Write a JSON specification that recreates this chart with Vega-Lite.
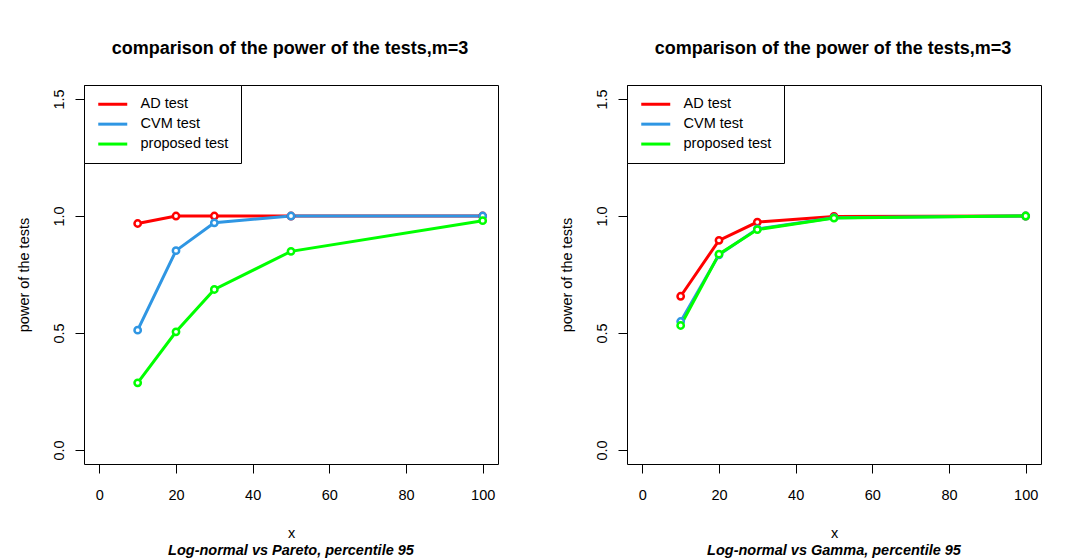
{
  "$schema": "https://vega.github.io/schema/vega-lite/v6.json",
  "background": "white",
  "padding": {"left": 15, "top": 39, "right": 5, "bottom": 0},
  "datasets": {
    "pareto": [
      {"test": "AD test", "x": 10, "power": 0.968},
      {"test": "AD test", "x": 20, "power": 1.0},
      {"test": "AD test", "x": 30, "power": 1.0},
      {"test": "AD test", "x": 50, "power": 1.0},
      {"test": "AD test", "x": 100, "power": 1.0},
      {"test": "CVM test", "x": 10, "power": 0.512},
      {"test": "CVM test", "x": 20, "power": 0.852},
      {"test": "CVM test", "x": 30, "power": 0.971},
      {"test": "CVM test", "x": 50, "power": 1.0},
      {"test": "CVM test", "x": 100, "power": 1.0},
      {"test": "proposed test", "x": 10, "power": 0.287},
      {"test": "proposed test", "x": 20, "power": 0.505},
      {"test": "proposed test", "x": 30, "power": 0.686},
      {"test": "proposed test", "x": 50, "power": 0.849},
      {"test": "proposed test", "x": 100, "power": 0.98}
    ],
    "gamma": [
      {"test": "AD test", "x": 10, "power": 0.657},
      {"test": "AD test", "x": 20, "power": 0.896},
      {"test": "AD test", "x": 30, "power": 0.974},
      {"test": "AD test", "x": 50, "power": 0.998},
      {"test": "AD test", "x": 100, "power": 1.0},
      {"test": "CVM test", "x": 10, "power": 0.549},
      {"test": "CVM test", "x": 20, "power": 0.834},
      {"test": "CVM test", "x": 30, "power": 0.945},
      {"test": "CVM test", "x": 50, "power": 0.993},
      {"test": "CVM test", "x": 100, "power": 1.0},
      {"test": "proposed test", "x": 10, "power": 0.532},
      {"test": "proposed test", "x": 20, "power": 0.837},
      {"test": "proposed test", "x": 30, "power": 0.942},
      {"test": "proposed test", "x": 50, "power": 0.991},
      {"test": "proposed test", "x": 100, "power": 1.0}
    ]
  },
  "config": {
    "font": "Liberation Sans",
    "view": {"stroke": "black", "strokeWidth": 1},
    "axis": {
      "grid": false, "domain": false, "tickColor": "black", "tickSize": 9, "tickWidth": 1,
      "labelFontSize": 14.5, "labelColor": "black", "labelFont": "Liberation Sans",
      "titleFontSize": 14.5, "titleFontWeight": "normal", "titleColor": "black", "titleFont": "Liberation Sans"
    },
    "legend": {
      "orient": "top-left", "offset": 0, "padding": 12, "strokeColor": "black", "fillColor": "white",
      "labelFontSize": 14.5, "labelColor": "black", "labelFont": "Liberation Sans",
      "symbolType": "M-2.9,0H2.9", "symbolSize": 100, "symbolStrokeWidth": 3,
      "symbolFillColor": "transparent", "labelOffset": 20.5, "symbolOffset": 9.5, "rowPadding": 4.9,
      "cornerRadius": 0
    },
    "title": {"font": "Liberation Sans", "color": "black"}
  },
  "spacing": 59,
  "resolve": {"scale": {"color": "independent"}},
  "hconcat": [
    {
      "title": {"text": "comparison of the power of the tests,m=3", "fontSize": 18, "fontWeight": "bold", "anchor": "middle", "offset": 27, "dx": 33},
      "vconcat": [
        {
          "data": {"name": "pareto"},
          "width": 414,
          "height": 379,
          "title": {"text": "Log-normal vs Pareto, percentile 95", "orient": "bottom", "fontSize": 14.5, "fontWeight": "bold", "fontStyle": "italic", "anchor": "middle", "offset": 4},
          "encoding": {
            "x": {"field": "x", "type": "quantitative", "scale": {"domain": [-4, 104], "nice": false, "zero": false},
                  "axis": {"values": [0, 20, 40, 60, 80, 100], "title": "x", "labelPadding": 15, "titlePadding": 25}},
            "y": {"field": "power", "type": "quantitative", "scale": {"domain": [-0.06, 1.56], "nice": false, "zero": false},
                  "axis": {"values": [0, 0.5, 1, 1.5], "format": ".1f", "title": "power of the tests", "labelAngle": -90, "labelAlign": "center", "labelBaseline": "bottom", "labelPadding": 9, "titlePadding": 20}},
            "color": {"field": "test", "type": "nominal",
                      "scale": {"domain": ["AD test", "CVM test", "proposed test"], "range": ["#ff0000", "#2f96e3", "#00ff00"]},
                      "legend": {"title": null}}
          },
          "layer": [
            {"mark": {"type": "line", "strokeWidth": 3, "strokeCap": "butt"}},
            {"mark": {"type": "point", "shape": "circle", "filled": false, "fill": "white", "size": 40, "strokeWidth": 2.5, "opacity": 1}}
          ]
        }
      ]
    },
    {
      "title": {"text": "comparison of the power of the tests,m=3", "fontSize": 18, "fontWeight": "bold", "anchor": "middle", "offset": 27, "dx": 33},
      "vconcat": [
        {
          "data": {"name": "gamma"},
          "width": 414,
          "height": 379,
          "title": {"text": "Log-normal vs Gamma, percentile 95", "orient": "bottom", "fontSize": 14.5, "fontWeight": "bold", "fontStyle": "italic", "anchor": "middle", "offset": 4},
          "encoding": {
            "x": {"field": "x", "type": "quantitative", "scale": {"domain": [-4, 104], "nice": false, "zero": false},
                  "axis": {"values": [0, 20, 40, 60, 80, 100], "title": "x", "labelPadding": 15, "titlePadding": 25}},
            "y": {"field": "power", "type": "quantitative", "scale": {"domain": [-0.06, 1.56], "nice": false, "zero": false},
                  "axis": {"values": [0, 0.5, 1, 1.5], "format": ".1f", "title": "power of the tests", "labelAngle": -90, "labelAlign": "center", "labelBaseline": "bottom", "labelPadding": 9, "titlePadding": 20}},
            "color": {"field": "test", "type": "nominal",
                      "scale": {"domain": ["AD test", "CVM test", "proposed test"], "range": ["#ff0000", "#2f96e3", "#00ff00"]},
                      "legend": {"title": null}}
          },
          "layer": [
            {"mark": {"type": "line", "strokeWidth": 3, "strokeCap": "butt"}},
            {"mark": {"type": "point", "shape": "circle", "filled": false, "fill": "white", "size": 40, "strokeWidth": 2.5, "opacity": 1}}
          ]
        }
      ]
    }
  ]
}
